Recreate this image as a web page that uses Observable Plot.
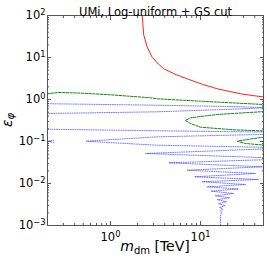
<!DOCTYPE html>
<html><head><meta charset="utf-8">
<script src="https://cdn.jsdelivr.net/npm/d3@7"></script>
<script src="https://cdn.jsdelivr.net/npm/@observablehq/plot@0.6"></script>
<style>
body{margin:0;background:#fff}
svg{display:block}
</style>
</head><body><div id="chart"></div>
<script>
const titleText = "UMi, Log-uniform + GS cut";

// red solid curve
const redX = [2.22, 2.25, 2.34, 2.56, 2.9, 3.4, 3.9, 5.2, 7.1, 10.5, 15.3, 21, 27.8, 38, 52];
const redY = [130, 100, 34.6, 17.6, 10.2, 7.0, 5.4, 4.0, 3.1, 2.3, 1.8, 1.55, 1.37, 1.24, 1.14];

// green dashed curves
const green1X = [0.18, 0.2, 0.267, 0.464, 0.92, 2.78, 3.3, 10, 50, 56];
const green1Y = [1.33, 1.37, 1.47, 1.42, 1.31, 1.10, 1.04, 0.91, 0.76, 0.74];
const green2X = [56, 52.7, 15.3, 7.74, 6.8, 7.74, 10, 23.3, 52.7, 56];
const green2Y = [0.53, 0.518, 0.44, 0.366, 0.316, 0.268, 0.219, 0.19, 0.178, 0.177];
const green3X = [56, 52.7, 36, 25.5, 31.6, 52.7, 56];
const green3Y = [0.13, 0.128, 0.115, 0.1016, 0.0895, 0.0817, 0.081];

// blue dotted zigzag
const blueX = [0.151, 0.2, 3.24, 21.5, 57, 21.5, 3.24, 0.2, 0.151, 0.1, 0.151, 0.2, 3.24, 52.7, 63.1, 52.7, 3.24, 0.537,
  3.24, 52.7, 68.1, 52.7, 2.45, 52.7, 63.1, 52.7, 4.44, 48.9, 7.11, 40.8, 8.58, 44.1, 10.4, 31.6, 11.8, 26.4, 13.1,
  23.3, 14.5, 21.0, 15.3, 19.4, 15.85, 18.7, 16.3, 17.8, 16.5, 17.3, 16.7, 16.7];
const blueY = [0.82, 0.794, 0.731, 0.681, 0.638, 0.585, 0.509, 0.464, 0.44, 0.299, 0.2, 0.196, 0.18, 0.168, 0.157, 0.148, 0.129, 0.1016,
  0.0817, 0.0728, 0.0697, 0.0667, 0.0518, 0.0411, 0.0394, 0.0369, 0.0311, 0.025, 0.0207, 0.0173, 0.01445, 0.01245, 0.011, 0.00946, 0.00833, 0.0074, 0.00656,
  0.00578, 0.00509, 0.00457, 0.00411, 0.00369, 0.0033, 0.00296, 0.00269, 0.00243, 0.00223, 0.00204, 0.00188, 0.00095];
const blueSmallX = [0.236, 0.202, 0.236];
const blueSmallY = [0.108, 0.1016, 0.095];

// axes
const xDomain = [0.2, 50];
const yDomain = [1e-3, 1e2];
const xTicks = [1, 10];
const xTickExp = ["0", "1"];
const yTicks = [1e-3, 1e-2, 1e-1, 1, 10, 100];
const yTickExp = ["−3", "−2", "−1", "0", "1", "2"];
const tickBase = "10";
const xMinor = [0.3, 0.4, 0.5, 0.6, 0.7, 0.8, 0.9, 2, 3, 4, 5, 6, 7, 8, 9, 20, 30, 40];
const yMinor = [];
for (const e of [-3, -2, -1, 0, 1]) for (let m = 2; m <= 9; m++) yMinor.push(+(m * Math.pow(10, e)).toPrecision(3));

const zip = (xs, ys) => xs.map((x, i) => ({x, y: ys[i]}));
const red = zip(redX, redY);
const green1 = zip(green1X, green1Y);
const green2 = zip(green2X, green2Y);
const green3 = zip(green3X, green3Y);
const blue = zip(blueX, blueY);
const blueSmall = zip(blueSmallX, blueSmallY);

const tickColor = "#555";
const tickMarks = [];
for (const a of ["top", "bottom"]) {
  tickMarks.push(Plot.axisX(xTicks, {anchor: a, tickSize: -4, fill: "none", stroke: tickColor, label: null}));
  tickMarks.push(Plot.axisX(xMinor, {anchor: a, tickSize: -2, fill: "none", stroke: tickColor, label: null}));
}
for (const a of ["left", "right"]) {
  tickMarks.push(Plot.axisY(yTicks, {anchor: a, tickSize: -4, fill: "none", stroke: tickColor, label: null}));
  tickMarks.push(Plot.axisY(yMinor, {anchor: a, tickSize: -2, fill: "none", stroke: tickColor, label: null}));
}

const blueStyle = {x: "x", y: "y", stroke: "#3030ff", strokeWidth: 0.9, strokeDasharray: "1,1.3", strokeOpacity: 0.7, clip: true};
const greenStyle = {x: "x", y: "y", stroke: "#108a10", strokeWidth: 1, strokeDasharray: "2.5,1.3", clip: true};

const chart = Plot.plot({
  width: 267,
  height: 258,
  marginLeft: 47,
  marginRight: 4,
  marginTop: 15,
  marginBottom: 33,
  style: {fontFamily: "DejaVu Sans, sans-serif", fontSize: "11px", background: "#fff", color: "#000"},
  x: {type: "log", domain: xDomain},
  y: {type: "log", domain: yDomain},
  marks: [
    Plot.line(blue, blueStyle),
    Plot.line(blueSmall, blueStyle),
    Plot.line(green1, greenStyle),
    Plot.line(green2, greenStyle),
    Plot.line(green3, greenStyle),
    Plot.line(red, {x: "x", y: "y", stroke: "#ff2020", strokeWidth: 1, clip: true}),
    Plot.frame({stroke: "#555", strokeWidth: 1}),
    ...tickMarks,
    Plot.axisX(xTicks, {anchor: "bottom", tickSize: 0, tickPadding: 7, fontSize: 11.5, tickFormat: d => tickBase + "^" + xTickExp[xTicks.indexOf(d)], label: null}),
    Plot.axisY(yTicks, {anchor: "left", tickSize: 0, tickPadding: 2, fontSize: 11.5, tickFormat: d => tickBase + "^" + yTickExp[yTicks.indexOf(d)], label: null}),
    Plot.text([titleText], {text: d => d, frameAnchor: "top", dy: -8, fontSize: 11.5})
  ]
});

const svg = d3.select(chart);
// render tick labels as base + real superscript
svg.selectAll("text").each(function () {
  const t = this.textContent;
  if (t.startsWith(tickBase + "^")) {
    const exp = t.slice(tickBase.length + 1);
    const sel = d3.select(this);
    sel.text(null);
    sel.append("tspan").text(tickBase);
    sel.append("tspan").attr("dy", "-0.45em").attr("font-size", "0.72em").text(exp);
  }
});

// axis labels with sub-scripts
const xl = svg.append("text")
  .attr("x", 155).attr("y", 251)
  .attr("text-anchor", "middle")
  .attr("font-family", "DejaVu Sans, sans-serif")
  .attr("font-size", 14).attr("fill", "#000");
xl.append("tspan").attr("font-style", "italic").text("m");
xl.append("tspan").attr("font-size", 10).attr("dy", 3).text("dm");
xl.append("tspan").attr("dy", -3).text(" [TeV]");

const yl = svg.append("text")
  .attr("transform", "translate(12,120) rotate(-90)")
  .attr("text-anchor", "middle")
  .attr("font-family", "DejaVu Sans, sans-serif")
  .attr("font-size", 14).attr("fill", "#000");
yl.append("tspan").attr("font-style", "italic").text("ε");
yl.append("tspan").attr("font-style", "italic").attr("font-size", 10).attr("dy", 2).text("φ");

document.getElementById("chart").appendChild(chart);
</script>
</body></html>
